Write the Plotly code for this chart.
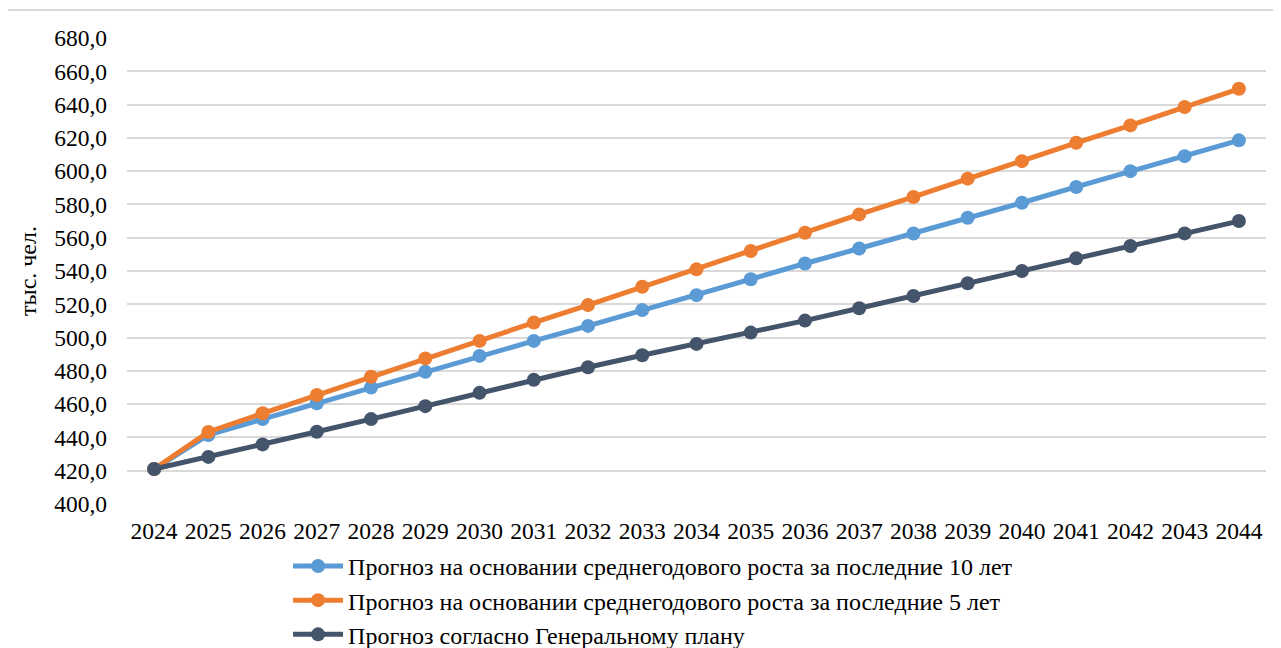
import plotly.graph_objects as go

years = [str(y) for y in range(2024, 2045)]

forecast_10y = [421.0, 441.5, 451.0, 460.5, 470.0, 479.5, 489.0, 498.0, 507.0, 516.5, 525.5,
                535.0, 544.5, 553.5, 562.5, 572.0, 581.0, 590.5, 600.0, 609.0, 618.5]
forecast_5y = [421.0, 443.3, 454.5, 465.5, 476.5, 487.5, 498.0, 509.0, 519.5, 530.5, 541.0,
               552.0, 563.0, 574.0, 584.5, 595.5, 606.0, 617.0, 627.5, 638.5, 649.5]
forecast_gp = [421.0, 428.3, 435.8, 443.4, 451.0, 458.8, 466.8, 474.6, 482.2, 489.4, 496.2,
               503.0, 510.2, 517.6, 525.0, 532.6, 540.0, 547.6, 555.0, 562.6, 570.0]

names = [
    "Прогноз на основании среднегодового роста за последние 10 лет",
    "Прогноз на основании среднегодового роста за последние 5 лет",
    "Прогноз согласно Генеральному плану",
]
colors = ["#5B9BD5", "#ED7D31", "#44546A"]
series = [forecast_10y, forecast_5y, forecast_gp]

y_ticks = list(range(400, 681, 20))
y_tick_text = [f"{v},0" for v in y_ticks]

FONT = "Liberation Serif, Times New Roman, serif"
FS = 23.5

fig = go.Figure()
for i, (nm, col, vals) in enumerate(zip(names, colors, series)):
    fig.add_trace(go.Scatter(
        x=years, y=vals, name=nm, mode="lines+markers",
        line=dict(color=col, width=5),
        marker=dict(color=col, size=14),
        legendgroup=f"g{i}",
    ))

fig.update_layout(
    width=1273, height=640,
    margin=dict(l=119, r=15, t=30, b=144, autoexpand=False),
    paper_bgcolor="white", plot_bgcolor="white",
    font=dict(family=FONT, size=FS, color="#000000"),
    showlegend=True,
    legend=dict(
        orientation="v", x=0.1414, xanchor="left", y=-0.0855, yanchor="top",
        font=dict(family=FONT, size=24, color="#000000"),
        tracegroupgap=0, itemwidth=50, bgcolor="rgba(0,0,0,0)",
    ),
    xaxis=dict(
        type="category", range=[-0.5, 20.5], showgrid=False, showline=False,
        ticks="", tickfont=dict(family=FONT, size=FS), zeroline=False,
        ticklabelstandoff=10,
    ),
    yaxis=dict(
        range=[400, 680], tickvals=y_ticks, ticktext=y_tick_text,
        showgrid=True, gridcolor="#d9d9d9", gridwidth=2, zeroline=False,
        showline=False, ticks="", ticklabelstandoff=19,
        tickfont=dict(family=FONT, size=FS),
        title=dict(text="тыс. чел.", font=dict(family=FONT, size=24), standoff=10),
    ),
    shapes=[dict(
        type="rect", xref="paper", yref="paper",
        x0=-0.1062, x1=1.05, y0=-0.4, y1=1.06,
        line=dict(color="#d9d9d9", width=2), fillcolor="rgba(0,0,0,0)", layer="below",
    )],
)

fig.write_html("out.html")
